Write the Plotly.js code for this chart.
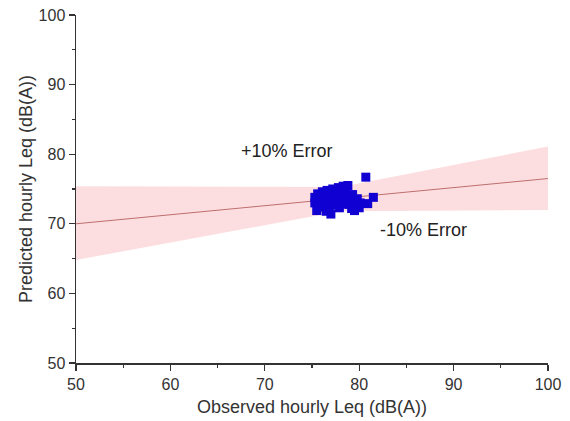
<!DOCTYPE html>
<html>
<head>
<meta charset="utf-8">
<script src="https://cdn.plot.ly/plotly-3.0.1.min.js"></script>
<style>html,body{margin:0;padding:0;background:#fff;}#chart{width:570px;height:421px;}</style>
</head>
<body>
<div id="chart"></div>
<script>
// Observed vs predicted hourly Leq (dB(A))
var observed = [80.7,81.5,77.0,75.5,79.5,80.0,80.9,75.3,75.3,75.6,76.1,76.6,77.2,77.8,78.3,78.8,78.5,78.0,77.5,76.8,76.2,75.8,76.5,77.2,78.0,78.8,79.3,79.5,80.1,79.0,78.2,77.5,76.8,76.2,75.7,76.5,79.2,77.9,78.6,77.0,76.0,79.8];
var predicted = [76.7,73.8,71.4,71.9,71.9,72.3,72.9,73.0,73.8,74.3,74.6,74.8,75.0,75.2,75.4,75.5,74.6,74.3,74.0,74.0,73.7,73.2,73.3,73.4,73.6,73.8,74.2,73.3,73.0,72.8,72.8,72.7,72.6,72.4,72.5,71.8,72.2,72.3,73.1,73.9,74.0,73.6];
// Fitted line
var fitX = [50, 100];
var fitY = [70.0, 76.5];
// Error band edges
var bandX = [50, 78, 100];
var bandUpper = [75.4, 75.3, 81.1];
var bandLower = [64.8, 71.8, 72.0];

var polyX = bandX.concat(bandX.slice().reverse());
var polyY = bandUpper.concat(bandLower.slice().reverse());

var traces = [
  {x: polyX, y: polyY, type: 'scatter', mode: 'lines', fill: 'toself',
   fillcolor: 'rgba(253,222,224,1)', line: {width: 0}, hoverinfo: 'skip', showlegend: false},
  {x: fitX, y: fitY, type: 'scatter', mode: 'lines',
   line: {color: 'rgb(190,110,110)', width: 1}, showlegend: false},
  {x: observed, y: predicted, type: 'scatter', mode: 'markers',
   marker: {symbol: 'square', size: 9, color: 'rgb(16,0,210)'}, showlegend: false}
];

var axisCommon = {
  range: [50, 100], dtick: 10, ticks: 'outside', ticklen: 6, tickwidth: 1.3, tickcolor: '#333',
  showline: true, linecolor: '#333', linewidth: 1.5, showgrid: false, zeroline: false,
  tickfont: {family: 'Liberation Sans, Arial, sans-serif', size: 16, color: '#333'},
  minor: {dtick: 5, ticks: 'outside', ticklen: 3, tickwidth: 1.3, tickcolor: '#333', showgrid: false}
};

var layout = {
  width: 570, height: 421,
  margin: {l: 76, r: 22, t: 15, b: 58},
  paper_bgcolor: '#fff', plot_bgcolor: '#fff',
  showlegend: false,
  font: {family: 'Liberation Sans, Arial, sans-serif', color: '#333'},
  xaxis: Object.assign({}, axisCommon, {
    title: {text: 'Observed hourly Leq (dB(A))', font: {size: 18, color: '#333'}, standoff: 8}
  }),
  yaxis: Object.assign({}, axisCommon, {
    title: {text: 'Predicted hourly Leq (dB(A))', font: {size: 18, color: '#333'}, standoff: 1}
  }),
  annotations: [
    {x: 72.4, y: 80.5, xref: 'x', yref: 'y', text: '+10% Error', showarrow: false,
     font: {size: 18, color: '#222'}},
    {x: 86.8, y: 69.1, xref: 'x', yref: 'y', text: '-10% Error', showarrow: false,
     font: {size: 18, color: '#222'}}
  ]
};

Plotly.newPlot('chart', traces, layout, {displayModeBar: false, staticPlot: true});
</script>
</body>
</html>
